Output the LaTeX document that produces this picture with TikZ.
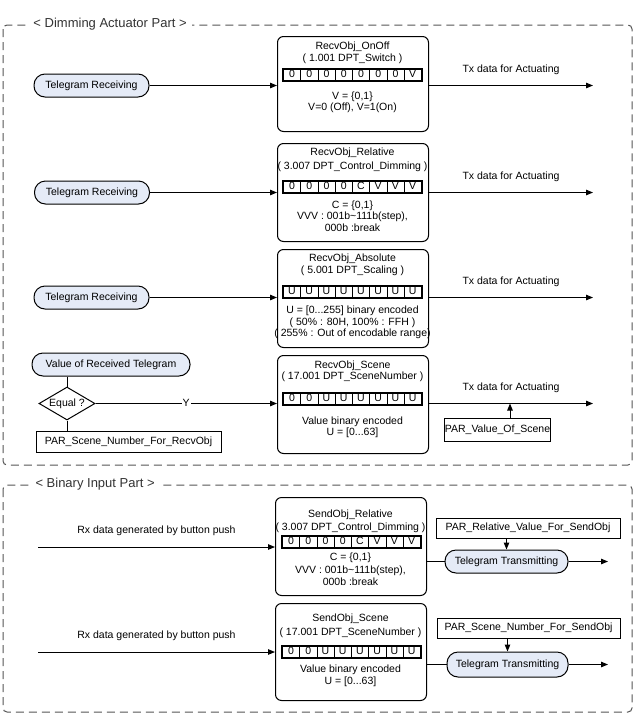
\documentclass[tikz,border=0pt]{standalone}
\usepackage{fontspec}
\setmainfont{Liberation Sans}
\usetikzlibrary{arrows.meta, shapes.geometric, positioning}

\definecolor{telblue}{RGB}{229,235,247}
\definecolor{framegray}{RGB}{85,85,85}

\tikzset{
  objbox/.style={draw, rounded corners=6pt, anchor=north west, minimum width=151pt},
  telnode/.style={draw, fill=telblue, rounded corners=11pt, minimum height=23pt},
  parbox/.style={draw, minimum height=21pt},
  bitcell/.style={draw, line width=0.7pt, anchor=north west, minimum width=17.25pt, minimum height=11pt},
  partframe/.style={draw=framegray, dash pattern=on 8pt off 5pt, rounded corners=4pt},
  parttitle/.style={fill=white, inner xsep=5pt, anchor=west, text height=9.5pt, text depth=2.5pt, text=black!80, font=\fontsize{13}{15}\selectfont},
  flow/.style={-{Triangle[length=7pt,width=5.5pt]}},
}

\begin{document}
\begin{tikzpicture}[x=1pt, y=-1pt, line width=1pt, font=\fontsize{10.5}{12}\selectfont]
\useasboundingbox (0,0) rectangle (633,713);
\begin{scope}[every node/.style={inner sep=0pt, text height=7.5pt, text depth=2pt}]
% part frames
\draw [partframe] (3,25) rectangle (632,465);
\draw [partframe] (3,485) rectangle (632,712);
\node [parttitle] (dimtitle) at (28,23.5) {< Dimming Actuator Part >};
\node [parttitle] (bintitle) at (30,484) {< Binary Input Part >};

% receiving side
\node [telnode, minimum width=115pt] (tel1) at (91.5,85.5) {Telegram Receiving};
\node [telnode, minimum width=115pt] (tel2) at (92,192.5) {Telegram Receiving};
\node [telnode, minimum width=115pt] (tel3) at (91.5,297.5) {Telegram Receiving};
\node [telnode, minimum width=158pt] (valrx) at (111,364.5) {Value of Received Telegram};
\node [draw, diamond, aspect=1.7, minimum width=56pt, minimum height=33pt] (eq) at (67,403.5) {Equal ?};
\node [parbox, minimum width=185pt] (parrx) at (128.5,442) {PAR\_Scene\_Number\_For\_RecvObj};

% communication objects
\node [objbox, minimum height=95pt] (recv1) at (277,36) {};
\node [objbox, minimum height=98pt] (recv2) at (277,143) {};
\node [objbox, minimum height=98pt] (recv3) at (277,249) {};
\node [objbox, minimum height=98pt] (recv4) at (277,355) {};
\node [objbox, minimum height=98pt] (send1) at (275,497) {};
\node [objbox, minimum height=97pt] (send2) at (275,603) {};

\node (recv1a) at (352.5,47)  {RecvObj\_OnOff};
\node (recv1b) at (352.5,59)  {( 1.001 DPT\_Switch )};
\node (recv1c) at (352.5,97)  {V = \{0,1\}};
\node (recv1d) at (352.5,108) {V=0 (Off), V=1(On)};
\node (recv2a) at (352.5,153) {RecvObj\_Relative};
\node (recv2b) at (352.5,167) {( 3.007 DPT\_Control\_Dimming )};
\node (recv2c) at (352.5,206) {C = \{0,1\}};
\node (recv2d) at (352.5,217) {VVV : 001b\textasciitilde111b(step),};
\node (recv2e) at (352.5,229) {000b :break};
\node (recv3a) at (352.5,259) {RecvObj\_Absolute};
\node (recv3b) at (352.5,271) {( 5.001 DPT\_Scaling )};
\node (recv3c) at (352.5,311) {U = [0...255] binary encoded};
\node (recv3d) at (352.5,323) {( 50\% : 80H, 100\% : FFH )};
\node (recv3e) at (352.5,334) {( 255\% : Out of encodable range)};
\node (recv4a) at (352.5,366) {RecvObj\_Scene};
\node (recv4b) at (352.5,377) {( 17.001 DPT\_SceneNumber )};
\node (recv4c) at (352.5,422) {Value binary encoded};
\node (recv4d) at (352.5,433) {U = [0...63]};
\node (send1a) at (350.5,515) {SendObj\_Relative};
\node (send1b) at (350.5,527.5) {( 3.007 DPT\_Control\_Dimming )};
\node (send1c) at (350.5,558) {C = \{0,1\}};
\node (send1d) at (350.5,571) {VVV : 001b\textasciitilde111b(step),};
\node (send1e) at (350.5,583) {000b :break};
\node (send2a) at (350.5,619) {SendObj\_Scene};
\node (send2b) at (350.5,633) {( 17.001 DPT\_SceneNumber )};
\node (send2c) at (350.5,670) {Value binary encoded};
\node (send2d) at (350.5,682) {U = [0...63]};

% bit fields
\foreach \bx/\by/\bits [count=\r] in {283/69/{0,0,0,0,0,0,0,V}, 283/181/{0,0,0,0,C,V,V,V},
                           283/286/{U,U,U,U,U,U,U,U}, 283/393/{0,0,U,U,U,U,U,U},
                           282/536/{0,0,0,0,C,V,V,V}, 282/646/{0,0,U,U,U,U,U,U}} {
  \draw [line width=0.7pt] (\bx-1,\by-1) rectangle (\bx+139,\by+12);
  \foreach \b [count=\i from 0] in \bits
    \node [bitcell] (bit\r-\i) at (\bx+\i*17.25,\by) {\b};
}

% actuator flows
\coordinate (tx1) at (593,85.5);
\coordinate (tx2) at (593,192.5);
\coordinate (tx3) at (593,297.5);
\coordinate (tx4) at (593,403.5);
\draw [flow] (tel1) -- (tel1 -| recv1.west);
\draw [flow] (tel2) -- (tel2 -| recv2.west);
\draw [flow] (tel3) -- (tel3 -| recv3.west);
\draw [flow] (recv1.east |- tel1) -- (tx1) node [midway, above=11pt] (txl1) {Tx data for Actuating};
\draw [flow] (recv2.east |- tel2) -- (tx2) node [midway, above=11pt] (txl2) {Tx data for Actuating};
\draw [flow] (recv3.east |- tel3) -- (tx3) node [midway, above=11pt] (txl3) {Tx data for Actuating};
\draw [flow] (recv4.east |- eq) -- (tx4) node [midway, above=11pt] (txl4) {Tx data for Actuating};
\draw (valrx.south -| eq) -- (eq);
\draw (eq) -- (eq |- parrx.north);
\draw [flow] (eq) -- (eq -| recv4.west) node [midway, fill=white, inner xsep=1pt] (yes) {Y};
\node [parbox, minimum width=95pt, minimum height=23pt] (parval) at (497.5,429.5) {PAR\_Value\_Of\_Scene};
\coordinate (parvaltop) at ([xshift=12.5pt]parval.north);
\draw [flow] (parvaltop) -- (parvaltop |- tx4);

% binary input flows
\coordinate (rx1) at (38,547);
\coordinate (rx2) at (38,652);
\draw [flow] (rx1) -- (rx1 -| send1.west) node [midway, above=11pt] (rxl1) {Rx data generated by button push};
\draw [flow] (rx2) -- (rx2 -| send2.west) node [midway, above=11pt] (rxl2) {Rx data generated by button push};
\node [parbox, minimum width=184pt, minimum height=20pt] (parrel) at (528,528) {PAR\_Relative\_Value\_For\_SendObj};
\node [telnode, minimum width=123pt] (txm1) at (506.5,561.5) {Telegram Transmitting};
\node [parbox, minimum width=183pt, minimum height=20pt] (parscn) at (528.5,628) {PAR\_Scene\_Number\_For\_SendObj};
\node [telnode, minimum width=121pt, minimum height=25pt] (txm2) at (507.5,664.5) {Telegram Transmitting};
\coordinate (out1) at (608,561.5);
\coordinate (out2) at (608,664.5);
\draw (send1.east |- txm1) -- (txm1);
\draw (send2.east |- txm2) -- (txm2);
\draw [flow] (txm1 |- parrel.south) -- (txm1);
\draw [flow] (txm2 |- parscn.south) -- (txm2);
\draw [flow] (txm1) -- (out1);
\draw [flow] (txm2) -- (out2);
\end{scope}
\end{tikzpicture}
\end{document}
